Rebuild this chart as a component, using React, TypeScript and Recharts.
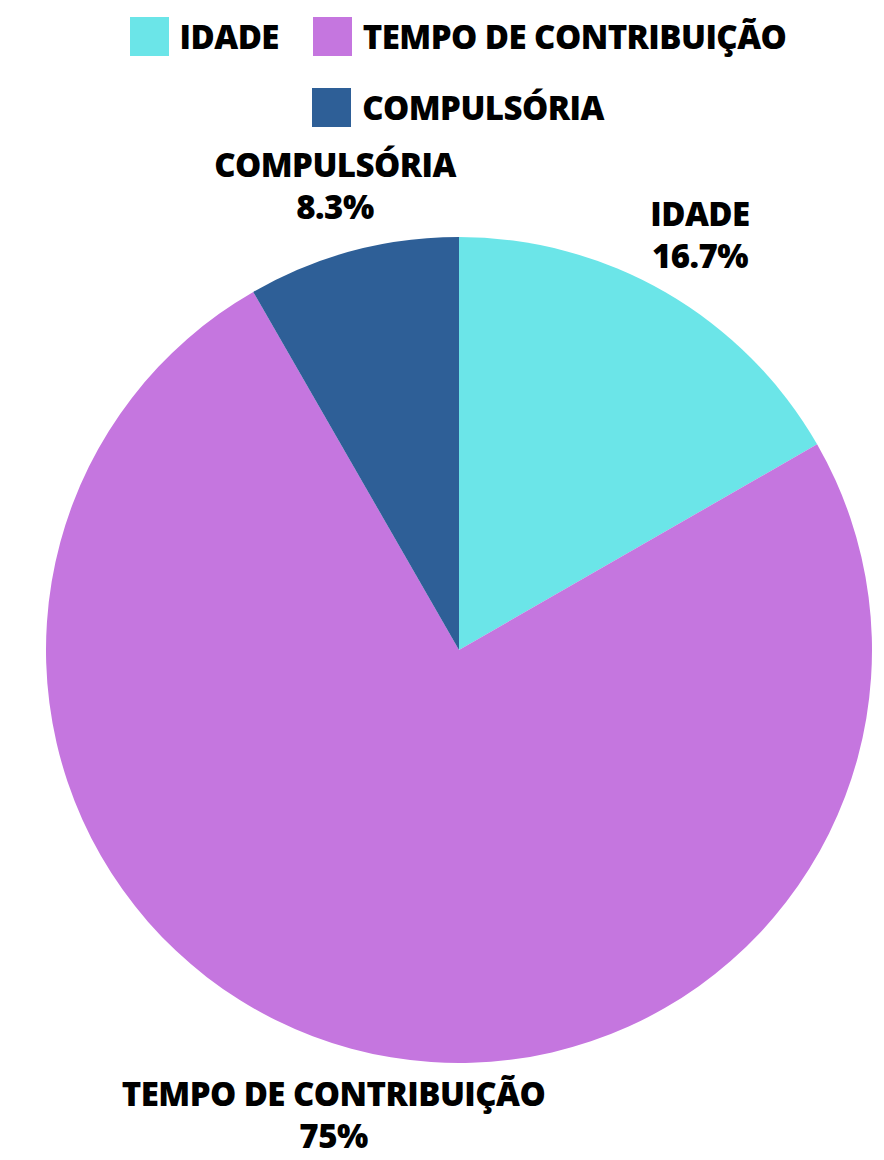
import { Cell, Legend, Pie, PieChart } from "recharts";

const categories = ["IDADE", "TEMPO DE CONTRIBUIÇÃO", "COMPULSÓRIA"];
const shares = [16.7, 75, 8.3];
const shareLabels = ["16.7%", "75%", "8.3%"];
const colors = ["#6be5e8", "#c576df", "#2e5f97"];

const data = categories.map((name, i) => ({
  name,
  value: shares[i],
  label: shareLabels[i],
}));

const FONT = "'Open Sans', sans-serif";
const STRETCH = "89.5%";
const SPACING = -0.55;
const LEGEND_H = 127;

function SliceLabel(props: any) {
  const { cx, cy, midAngle, outerRadius, index } = props;
  const r = outerRadius + 68;
  const rad = (Math.PI / 180) * midAngle;
  const x = cx + r * Math.cos(rad);
  const y = cy - r * Math.sin(rad);
  return (
    <text
      x={x}
      y={y}
      textAnchor="middle"
      fontFamily={FONT}
      fontWeight={800}
      fontSize={33}
      fill="#000"
      letterSpacing={SPACING}
      style={{ fontStretch: STRETCH }}
    >
      <tspan x={x} dy={-8}>
        {data[index].name}
      </tspan>
      <tspan x={x} dy={42}>
        {data[index].label}
      </tspan>
    </text>
  );
}

function LegendContent(props: any) {
  const payload = [...(props.payload || [])].sort(
    (a: any, b: any) => categories.indexOf(a.value) - categories.indexOf(b.value)
  );
  return (
    <div
      style={{
        display: "flex",
        flexWrap: "wrap",
        justifyContent: "center",
        columnGap: 34,
        rowGap: 32,
        width: 884,
        boxSizing: "border-box",
        paddingLeft: 32,
        paddingTop: 17,
        fontFamily: FONT,
        fontWeight: 800,
        fontSize: 33,
        fontStretch: STRETCH,
        letterSpacing: SPACING,
      }}
    >
      {payload.map((p: any) => (
        <div key={p.value} style={{ display: "flex", alignItems: "center" }}>
          <span
            style={{
              width: 39,
              height: 39,
              background: p.color,
              marginRight: 11,
              display: "inline-block",
            }}
          />
          <span style={{ lineHeight: "39px", color: "#000" }}>{p.value}</span>
        </div>
      ))}
    </div>
  );
}

export default function App() {
  return (
    <div style={{ position: "absolute", left: 0, top: 0, width: 884, height: 1160, background: "#fff" }}>
      <PieChart width={884} height={1160} margin={{ top: 0, right: 0, bottom: 0, left: 0 }}>
        <Legend
          verticalAlign="top"
          align="center"
          content={<LegendContent />}
          wrapperStyle={{ top: 0, left: 0 }}
        />
        <Pie
          data={data}
          dataKey="value"
          nameKey="name"
          cx={459}
          cy={650 - LEGEND_H}
          outerRadius={413}
          startAngle={90}
          endAngle={-270}
          stroke="none"
          label={<SliceLabel />}
          labelLine={false}
          isAnimationActive={false}
        >
          {data.map((d, i) => (
            <Cell key={d.name} fill={colors[i]} />
          ))}
        </Pie>
      </PieChart>
    </div>
  );
}
